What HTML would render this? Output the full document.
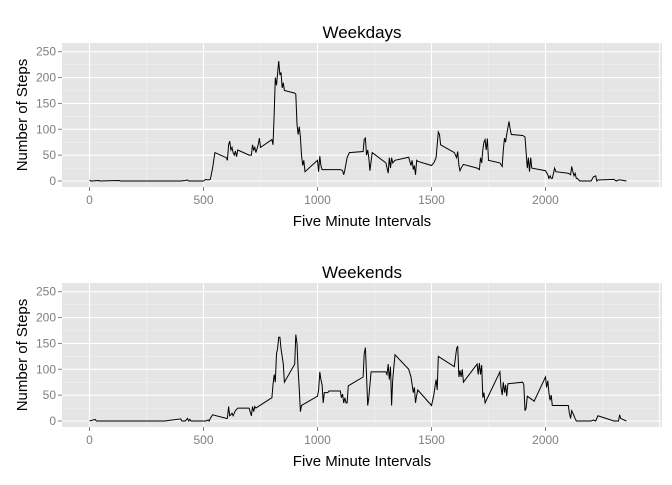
<!DOCTYPE html>
<html><head><meta charset="utf-8"><style>
body{margin:0;background:#fff;}
svg text{font-family:"Liberation Sans",sans-serif;}
</style></head><body>
<svg id="chart" width="672" height="480" xmlns="http://www.w3.org/2000/svg"></svg>
<script>
const xTicks=[0,500,1000,1500,2000];
const yTicks=[0,50,100,150,200,250];
const panelTitles=["Weekdays","Weekends"];
const weekdayIntervals=[0,5,10,40,45,130,135,400,420,430,435,500,510,520,530,540,550,600,605,610,615,620,625,630,635,640,645,650,700,710,715,720,725,730,740,745,750,800,805,810,815,820,830,835,840,845,850,855,900,905,910,915,920,925,930,935,940,945,1000,1005,1010,1015,1020,1030,1100,1110,1115,1120,1130,1140,1200,1205,1210,1215,1220,1225,1230,1240,1300,1310,1315,1320,1325,1330,1340,1400,1410,1415,1420,1425,1430,1435,1440,1500,1510,1520,1525,1530,1535,1540,1600,1610,1615,1620,1625,1630,1640,1700,1710,1715,1720,1725,1730,1735,1740,1745,1750,1800,1810,1815,1820,1825,1830,1840,1845,1850,1900,1910,1920,1925,1930,1935,1940,2000,2010,2015,2020,2025,2030,2035,2040,2045,2100,2110,2115,2120,2125,2130,2135,2140,2150,2200,2210,2220,2225,2230,2300,2310,2320,2330,2355];
const weekdaySteps=[2,0,0,1,0,1,0,0,1,2,0,0,3,2,3,25,55,45,40,70,77,60,65,55,50,58,47,60,50,50,70,60,65,55,70,83,65,80,70,130,200,185,232,205,210,180,190,175,170,168,110,90,105,85,50,30,40,18,40,18,48,30,22,22,22,20,12,22,45,55,57,80,83,50,60,45,20,55,35,15,45,25,45,35,40,46,30,40,22,30,12,40,38,30,35,45,70,95,90,70,55,45,57,30,20,25,32,25,22,45,35,60,75,80,60,82,40,35,28,60,83,75,90,115,100,90,88,85,25,45,18,45,25,20,12,5,10,5,5,15,25,18,15,12,28,18,10,15,5,5,0,0,8,10,0,2,3,0,2,2,0];
const weekendIntervals=[0,25,30,100,330,400,405,420,430,435,440,445,500,510,520,525,530,540,600,605,610,615,620,625,630,640,650,700,710,715,720,725,730,800,805,810,815,820,825,830,835,840,850,855,900,905,910,915,920,925,930,1000,1005,1010,1015,1020,1025,1030,1045,1050,1100,1105,1110,1115,1120,1125,1130,1135,1200,1205,1210,1215,1220,1225,1230,1235,1300,1305,1310,1315,1320,1325,1330,1340,1400,1410,1420,1425,1430,1435,1440,1500,1510,1515,1520,1525,1530,1600,1610,1615,1620,1625,1630,1635,1640,1700,1705,1710,1715,1720,1725,1730,1735,1800,1805,1810,1815,1820,1825,1830,1835,1900,1905,1910,1915,1920,1945,1950,2000,2005,2010,2015,2020,2025,2030,2100,2105,2110,2115,2120,2125,2130,2135,2200,2210,2220,2230,2300,2320,2325,2330,2355];
const weekendSteps=[0,3,0,0,0,4,0,0,5,0,3,0,0,0,2,0,5,12,5,5,28,10,12,15,10,20,25,25,10,28,18,28,25,45,70,90,75,130,140,162,162,140,110,75,110,167,150,100,60,18,30,48,60,95,80,70,35,55,55,58,58,45,52,35,45,35,35,68,85,130,142,90,30,45,70,95,95,90,110,80,105,30,80,128,100,85,55,65,35,50,60,30,50,65,80,60,125,105,140,145,85,98,85,100,75,110,90,112,90,108,45,55,35,95,65,50,75,55,70,48,72,75,70,20,25,48,40,38,85,65,78,55,40,50,30,30,15,5,20,15,10,5,0,0,2,0,10,0,0,12,5,0];
const seriesX=[weekdayIntervals,weekendIntervals];
const seriesY=[weekdaySteps,weekendSteps];

const NS="http://www.w3.org/2000/svg";
const svg=document.getElementById('chart');
function mk(tag,attrs,parent){const e=document.createElementNS(NS,tag);for(const k in attrs)e.setAttribute(k,attrs[k]);(parent||svg).appendChild(e);return e;}
const L=62,R=662,PH=144;
const xs=v=>89.5+v*(545.5-89.5)/2000;
for(let p=0;p<2;p++){
  const off=p*240, top=43+off, bottom=top+PH;
  const ys=v=>181+off-v*(181-51.7)/250;
  const g=mk('g',{});
  
  
  const bg=mk('rect',{x:L,y:top,width:R-L,height:PH,fill:'#e5e5e5'},g);
  
  
  for(let v=-250;v<=2500;v+=250){const x=xs(v);if(x<L||x>R)continue;const major=v%500===0;
    const l=mk('line',{x1:x,x2:x,y1:top,y2:bottom,stroke:major?'#fff':'#f2f2f2','stroke-width':major?1.1:0.6},g);
    }
  for(let v=-25;v<=275;v+=25){const y=ys(v);if(y<top||y>bottom)continue;const major=v%50===0;
    const l=mk('line',{x1:L,x2:R,y1:y,y2:y,stroke:major?'#fff':'#f2f2f2','stroke-width':major?1.1:0.6},g);
    }
  const X=seriesX[p],Y=seriesY[p];
  const d=X.map((v,i)=>(i?'L':'M')+xs(v).toFixed(1)+','+ys(Y[i]).toFixed(1)).join('');
  const path=mk('path',{d:d,fill:'none',stroke:'#000','stroke-width':1},g);
  
  
  xTicks.forEach(v=>{const x=xs(v);
    mk('line',{x1:x,x2:x,y1:bottom,y2:bottom+4,stroke:'#7f7f7f'},g);
    const t=mk('text',{x:x,y:bottom+17,'text-anchor':'middle','font-size':12,fill:'#7f7f7f'},g);t.textContent=v;
    });
  yTicks.forEach(v=>{const y=ys(v);
    mk('line',{x1:L-4,x2:L,y1:y,y2:y,stroke:'#7f7f7f'},g);
    const t=mk('text',{x:L-6,y:y+4,'text-anchor':'end','font-size':12,fill:'#7f7f7f'},g);t.textContent=v;
    });
  const tt=mk('text',{x:(L+R)/2,y:38+off,'text-anchor':'middle','font-size':17,fill:'#000'},g);tt.textContent=panelTitles[p];
  
  const xt=mk('text',{x:(L+R)/2,y:226+off,'text-anchor':'middle','font-size':15,fill:'#000'},g);xt.textContent='Five Minute Intervals';
  
  const yt=mk('text',{x:0,y:0,'text-anchor':'middle','font-size':15,fill:'#000',transform:'translate(27,'+(115+off)+') rotate(-90)'},g);yt.textContent='Number of Steps';
  
}
</script>
</body></html>
